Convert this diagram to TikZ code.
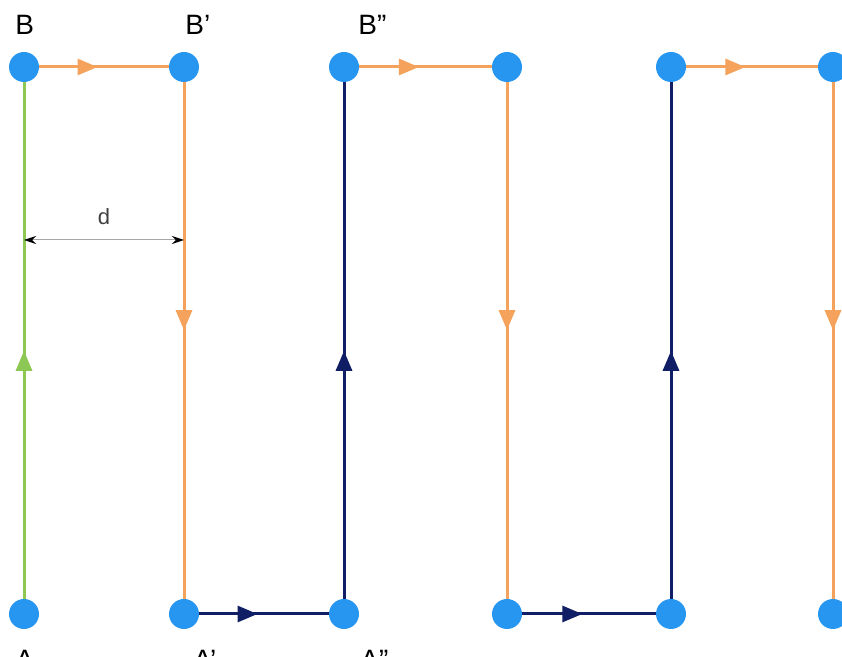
\documentclass[tikz,border=0pt]{standalone}
\usepackage{fontspec}
\setmainfont{Liberation Sans}
\usetikzlibrary{arrows.meta,decorations.markings}
\definecolor{dotblue}{RGB}{38,150,240}
\definecolor{orangeline}{RGB}{245,162,92}
\definecolor{greenline}{RGB}{142,200,84}
\definecolor{navyline}{RGB}{16,30,102}
\tikzset{
  dot/.style={circle, fill=dotblue, minimum size=15pt, inner sep=0pt},
  flow/.style={line width=1.5pt, postaction={decorate},
    decoration={markings, mark=at position #1 with {\arrow{Triangle[length=10pt,width=8pt]}}}},
  lbl/.style={anchor=base west, inner sep=0pt, font=\fontsize{14}{16}\selectfont}
}
\begin{document}
\begin{tikzpicture}[x=0.5pt,y=-0.5pt]
\clip (0,0) rectangle (842,657);
% dots, top row B and bottom row A
\foreach \i/\x in {0/24,1/184,2/344,3/507,4/671,5/833} {
  \node[dot] (B\i) at (\x,67) {};
  \node[dot] (A\i) at (\x,614) {};
}
% labels
\node[lbl] (lB0) at (15,35) {B};
\node[lbl] (lB1) at (185,35) {B'};
\node[lbl] (lB2) at (358,35) {B''};
\node[lbl] (lA0) at (15,670) {A};
\node[lbl] (lA1) at (193,670) {A'};
\node[lbl] (lA2) at (360,670) {A''};
% path
\draw[greenline, flow=0.48] (A0) -- (B0);
\draw[orangeline, flow=0.45] (B0) -- (B1);
\draw[orangeline, flow=0.48] (B1) -- (A1);
\draw[navyline, flow=0.45] (A1) -- (A2);
\draw[navyline, flow=0.48] (A2) -- (B2);
\draw[orangeline, flow=0.45] (B2) -- (B3);
\draw[orangeline, flow=0.48] (B3) -- (A3);
\draw[navyline, flow=0.45] (A3) -- (A4);
\draw[navyline, flow=0.48] (A4) -- (B4);
\draw[orangeline, flow=0.45] (B4) -- (B5);
\draw[orangeline, flow=0.48] (B5) -- (A5);
% distance d
\coordinate (dl) at (24,240);
\coordinate (dr) at (184,240);
\draw[gray!70, line width=0.5pt, {Stealth[black,length=6pt,width=4pt]}-{Stealth[black,length=6pt,width=4pt]}] (dl) -- (dr)
  node[midway, above=4pt, black!75, font=\fontsize{11}{13}\selectfont] (dlbl) {d};
\end{tikzpicture}
\end{document}
